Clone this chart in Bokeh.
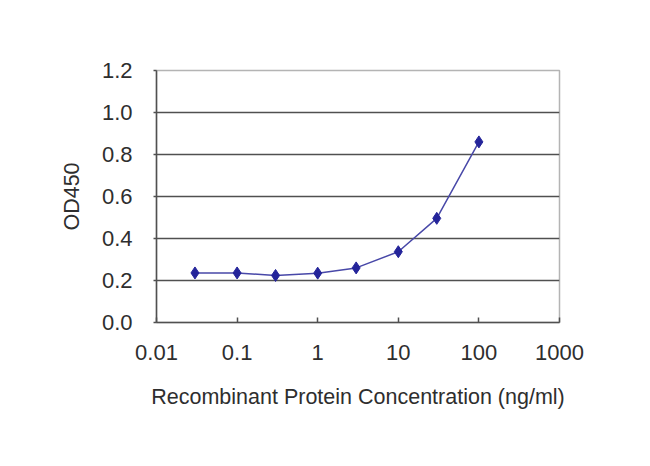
from bokeh.plotting import figure
from bokeh.models import Range1d, FixedTicker, ColumnDataSource
from bokeh.embed import file_html
from bokeh.resources import INLINE

concentration = [0.03, 0.1, 0.3, 1, 3, 10, 30, 100]
od450 = [0.236, 0.236, 0.224, 0.235, 0.26, 0.337, 0.496, 0.86]
x_ticks = [0.01, 0.1, 1, 10, 100, 1000]
x_tick_labels = ["0.01", "0.1", "1", "10", "100", "1000"]
y_ticks = [0.0, 0.2, 0.4, 0.6, 0.8, 1.0, 1.2]
y_tick_labels = ["0.0", "0.2", "0.4", "0.6", "0.8", "1.0", "1.2"]
x_title = "Recombinant Protein Concentration (ng/ml)"
y_title = "OD450"

FONT = "Liberation Sans"
TXT = "#2e2e2e"

p = figure(width=634, height=450, x_axis_type="log",
           x_range=Range1d(0.01, 1000), y_range=Range1d(0, 1.2),
           output_backend="svg", toolbar_location=None)
p.min_border_left = 156
p.min_border_right = 75
p.min_border_top = 70
p.min_border_bottom = 128
p.background_fill_color = "white"
p.border_fill_color = "white"
p.outline_line_color = "#b4b4b4"
p.outline_line_width = 1.5

# grids
p.xgrid.visible = False
p.ygrid.ticker = FixedTicker(ticks=y_ticks[1:-1])
p.ygrid.grid_line_color = "#505050"
p.ygrid.grid_line_width = 1.5

# x axis
xa = p.xaxis[0]
xa.ticker = FixedTicker(ticks=x_ticks)
xa.major_label_overrides = {t: l for t, l in zip(x_ticks, x_tick_labels)}
xa.minor_tick_line_color = None
xa.major_tick_in = 5
xa.major_tick_out = 0
xa.axis_line_color = "#505050"
xa.axis_line_width = 1.5
xa.major_tick_line_color = "#505050"
xa.major_tick_line_width = 1.5
xa.major_label_text_font = FONT
xa.major_label_text_font_size = "22px"
xa.major_label_text_color = TXT
xa.major_label_standoff = 22
xa.axis_label = x_title
xa.axis_label_text_font = FONT
xa.axis_label_text_font_size = "21.5px"
xa.axis_label_text_font_style = "normal"
xa.axis_label_text_color = TXT
xa.axis_label_standoff = 22

# y axis
ya = p.yaxis[0]
ya.ticker = FixedTicker(ticks=y_ticks)
ya.major_label_overrides = {t: l for t, l in zip(y_ticks, y_tick_labels)}
ya.minor_tick_line_color = None
ya.major_tick_in = 0
ya.major_tick_out = 3
ya.axis_line_color = "#505050"
ya.axis_line_width = 1.5
ya.major_tick_line_color = "#505050"
ya.major_tick_line_width = 1.5
ya.major_label_text_font = FONT
ya.major_label_text_font_size = "22px"
ya.major_label_text_color = TXT
ya.major_label_standoff = 21
ya.axis_label = y_title
ya.axis_label_text_font = FONT
ya.axis_label_text_font_size = "21.5px"
ya.axis_label_text_font_style = "normal"
ya.axis_label_text_color = TXT
ya.axis_label_standoff = 15

src = ColumnDataSource(dict(x=concentration, y=od450))
p.line("x", "y", source=src, line_color="#4848a8", line_width=1.5)
p.scatter("x", "y", source=src, marker="diamond", size=12,
          fill_color="#24249a", line_color="#24249a")

open("out.html", "w").write(file_html(p, INLINE))
